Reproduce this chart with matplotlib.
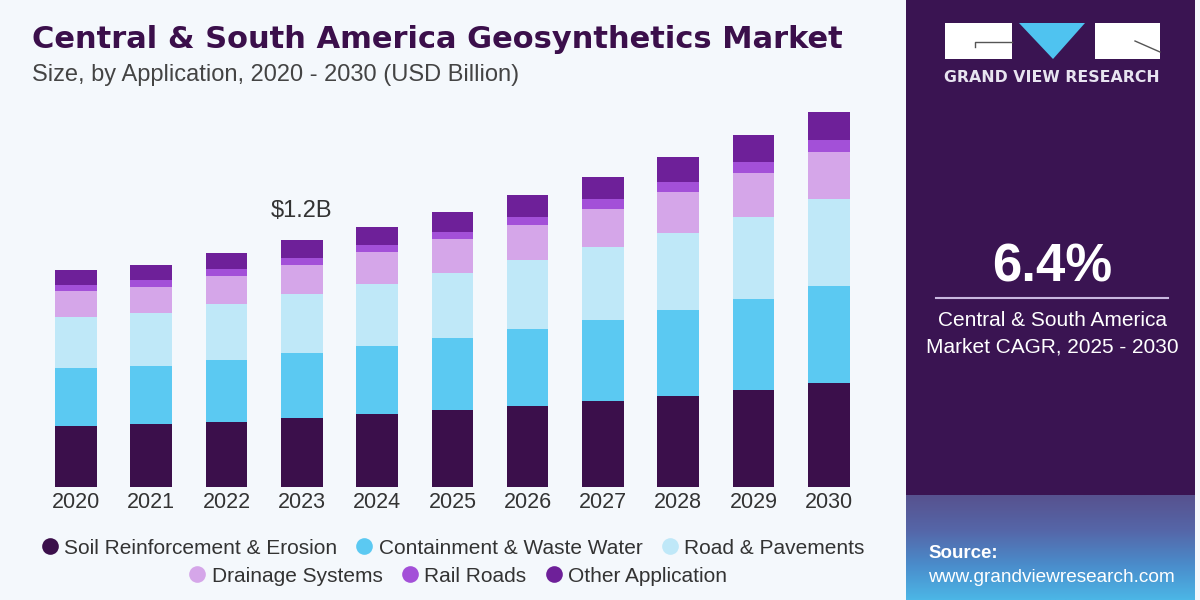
import matplotlib.pyplot as plt
import matplotlib.patches as mpatches
from matplotlib.lines import Line2D
from matplotlib.colors import LinearSegmentedColormap
import numpy as np

years = ['2020', '2021', '2022', '2023', '2024', '2025', '2026', '2027', '2028', '2029', '2030']

# USD billion
soil = [0.296, 0.304, 0.317, 0.337, 0.353, 0.374, 0.394, 0.418, 0.444, 0.472, 0.504]
containment = [0.281, 0.286, 0.301, 0.317, 0.335, 0.350, 0.374, 0.395, 0.418, 0.444, 0.475]
road = [0.252, 0.256, 0.273, 0.285, 0.301, 0.320, 0.338, 0.358, 0.377, 0.401, 0.424]
drainage = [0.127, 0.130, 0.137, 0.143, 0.155, 0.163, 0.171, 0.182, 0.200, 0.212, 0.228]
rail = [0.028, 0.033, 0.033, 0.036, 0.036, 0.037, 0.040, 0.049, 0.049, 0.057, 0.060]
other = [0.073, 0.073, 0.081, 0.083, 0.089, 0.098, 0.106, 0.110, 0.119, 0.130, 0.138]

series_names = ['Soil Reinforcement & Erosion', 'Containment & Waste Water', 'Road & Pavements',
                'Drainage Systems', 'Rail Roads', 'Other Application']
colors = ['#3b0f4b', '#5bc9f2', '#bfe8f8', '#d5a6e9', '#a350d8', '#6e2099']

bg = '#f4f8fc'
panel = '#3a1452'

fig = plt.figure(figsize=(12, 6), dpi=100)
fig.patch.set_facecolor(bg)

# chart axes (pixel layout: bars baseline ~487px, 205px per billion)
ax = fig.add_axes([38.4 / 1200, (600 - 486.7) / 600, 828 / 1200, 386.7 / 600])
ax.set_facecolor(bg)
x = np.arange(len(years))
bottom = np.zeros(len(years))
for vals, col in zip([soil, containment, road, drainage, rail, other], colors):
    ax.bar(x, vals, width=0.553, bottom=bottom, color=col, edgecolor='none')
    bottom += np.array(vals)
ax.set_xlim(-0.5, 10.5)
ax.set_ylim(0, 386.7 / 205)
ax.set_xticks(x)
ax.set_xticklabels(years, fontsize=15.5, color='#333333', family='Liberation Sans')
ax.tick_params(axis='x', length=0, pad=4)
ax.set_yticks([])
for s in ax.spines.values():
    s.set_visible(False)

ax.text(3, bottom[3] + 0.09, '$1.2B', ha='center', va='bottom', fontsize=17,
        color='#333333', family='Liberation Sans')

# titles
fig.text(32 / 1200, 1 - 40 / 600, 'Central & South America Geosynthetics Market', fontsize=22,
         fontweight='bold', family='DejaVu Sans', color='#3b0f4b', va='center')
fig.text(32 / 1200, 1 - 75 / 600, 'Size, by Application, 2020 - 2030 (USD Billion)', fontsize=17,
         family='Liberation Sans', color='#444444', va='center')

# legend, two centred rows
handles = [Line2D([0], [0], marker='o', linestyle='none', markersize=12, markerfacecolor=c,
                  markeredgecolor='none') for c in colors]
rows = [(handles[:3], series_names[:3], 452, 548), (handles[3:], series_names[3:], 457, 576)]
for h, lab, cx, cy in rows:
    leg = fig.legend(h, lab, loc='center', bbox_to_anchor=(cx / 1200, 1 - cy / 600),
                     ncol=3, frameon=False, handletextpad=0.2, columnspacing=0.8,
                     handlelength=1.0, borderpad=0, prop={'family': 'Liberation Sans', 'size': 15})
    for t in leg.get_texts():
        t.set_color('#333333')

# right panel
fig.patches.append(mpatches.Rectangle((906 / 1200, 0), 289 / 1200, 1, transform=fig.transFigure,
                                      facecolor=panel, edgecolor='none', zorder=0))
# source strip gradient
grad = np.linspace(0, 1, 100).reshape(-1, 1)
gax = fig.add_axes([906 / 1200, 0, 289 / 1200, 105 / 600], zorder=1)
cmap = LinearSegmentedColormap.from_list('g', ['#4cb6e6', '#4a8ccb', '#5566a8', '#57528f'])
gax.imshow(grad, aspect='auto', cmap=cmap, origin='lower', extent=[0, 1, 0, 1])
gax.axis('off')

# logo
fig.patches.append(mpatches.Rectangle((945 / 1200, 1 - 59 / 600), 67 / 1200, 36 / 600,
                                      transform=fig.transFigure, facecolor='white', zorder=2))
fig.patches.append(mpatches.Rectangle((1095 / 1200, 1 - 59 / 600), 65 / 1200, 36 / 600,
                                      transform=fig.transFigure, facecolor='white', zorder=2))
fig.patches.append(mpatches.Polygon([(1019 / 1200, 1 - 23 / 600), (1085 / 1200, 1 - 23 / 600),
                                     (1053 / 1200, 1 - 59 / 600)], closed=True,
                                    transform=fig.transFigure, facecolor='#4fc3f0', zorder=2))
fig.lines.append(Line2D([975 / 1200, 975 / 1200, 1012 / 1200], [1 - 47 / 600, 1 - 42 / 600, 1 - 42 / 600],
                        transform=fig.transFigure, color='#555555', lw=1, zorder=3))
fig.lines.append(Line2D([1135 / 1200, 1160 / 1200], [1 - 41 / 600, 1 - 52 / 600],
                        transform=fig.transFigure, color='#555555', lw=1, zorder=3))
fig.text(1052 / 1200, 1 - 78 / 600, 'GRAND VIEW RESEARCH', ha='center', va='center', color='#e8e4f0',
         fontsize=11.3, fontweight='bold', family='DejaVu Sans')

fig.text(1052 / 1200, 1 - 267 / 600, '6.4%', ha='center', va='center', color='white',
         fontsize=38, fontweight='bold', family='Liberation Sans')
fig.lines.append(Line2D([936 / 1200, 1168 / 1200], [1 - 298 / 600, 1 - 298 / 600],
                        transform=fig.transFigure, color='#c9b8e0', lw=1.5))
fig.text(1052 / 1200, 1 - 321 / 600, 'Central & South America', ha='center', va='center',
         color='white', fontsize=15, family='Liberation Sans')
fig.text(1052 / 1200, 1 - 347 / 600, 'Market CAGR, 2025 - 2030', ha='center', va='center',
         color='white', fontsize=15, family='Liberation Sans')

fig.text(928 / 1200, 1 - 553 / 600, 'Source:', ha='left', va='center', color='white',
         fontsize=13.5, fontweight='bold', family='Liberation Sans')
fig.text(928 / 1200, 1 - 577 / 600, 'www.grandviewresearch.com', ha='left', va='center',
         color='white', fontsize=13.7, family='Liberation Sans')

fig.savefig('out.png', dpi=100, facecolor=bg)
